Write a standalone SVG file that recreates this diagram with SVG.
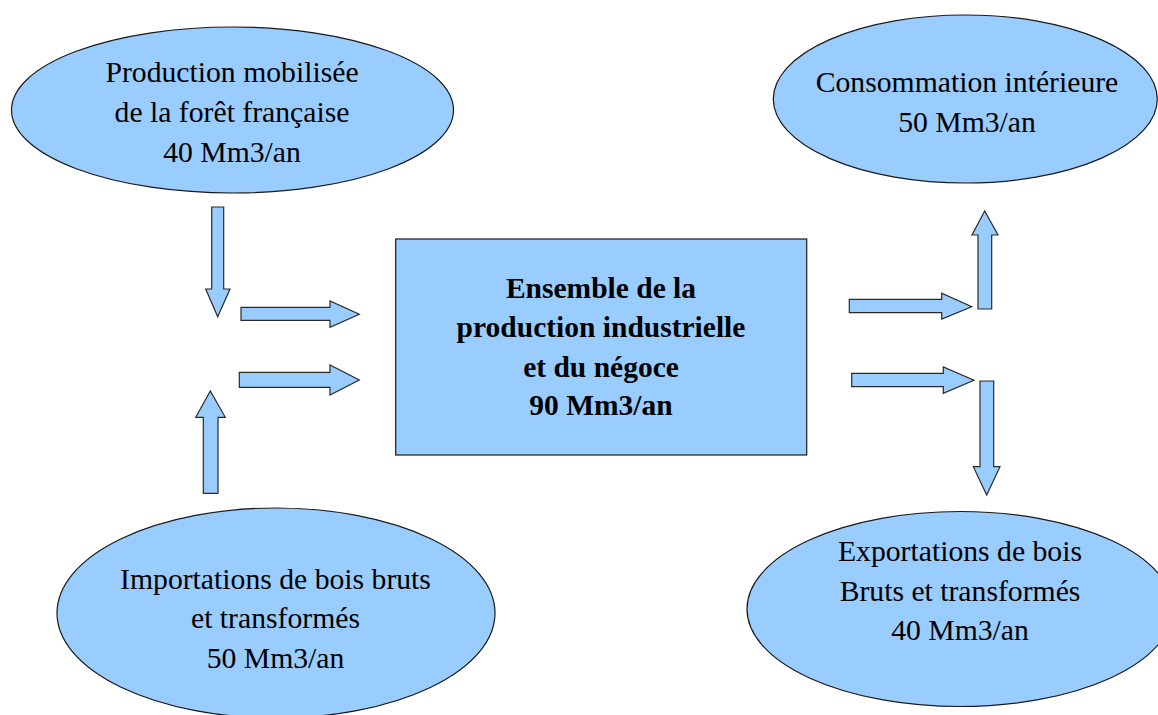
<svg xmlns="http://www.w3.org/2000/svg" width="1158" height="715" viewBox="0 0 1158 715">
<style>
.shape{fill:#99ccff;stroke:#1a1a1a;stroke-width:1.2}
.arr{fill:#99ccff;stroke:#2a2a2a;stroke-width:1.2;stroke-linejoin:miter}
.t{font-family:'Liberation Serif','Times New Roman',Times,Tinos,'Noto Serif','DejaVu Serif',FreeSerif,serif;font-size:29.7px;fill:#000;text-anchor:middle}
.b{font-weight:bold;font-size:29.5px}
</style>
<rect width="1158" height="715" fill="#ffffff"/>
<g id="node-production">
<ellipse class="shape" cx="232.5" cy="110" rx="221" ry="83"/>
<text class="t" x="232" y="82">Production mobilisée</text>
<text class="t" x="232" y="122">de la forêt française</text>
<text class="t" x="232" y="162">40 Mm3/an</text>
</g>
<g id="node-importations">
<ellipse class="shape" cx="276" cy="613" rx="219" ry="105"/>
<text class="t" x="275.5" y="589">Importations de bois bruts</text>
<text class="t" x="275.5" y="628">et transformés</text>
<text class="t" x="275.5" y="668">50 Mm3/an</text>
</g>
<g id="node-ensemble">
<rect class="shape" x="395.7" y="239" width="411" height="216"/>
<text class="t b" x="601" y="298">Ensemble de la</text>
<text class="t b" x="601" y="337">production industrielle</text>
<text class="t b" x="601" y="377">et du négoce</text>
<text class="t b" x="601" y="415">90 Mm3/an</text>
</g>
<g id="node-consommation">
<ellipse class="shape" cx="965.3" cy="99" rx="192" ry="84"/>
<text class="t" x="967" y="92">Consommation intérieure</text>
<text class="t" x="967" y="132">50 Mm3/an</text>
</g>
<g id="node-exportations">
<ellipse class="shape" cx="960" cy="609" rx="213" ry="97.5"/>
<text class="t" x="960" y="561">Exportations de bois</text>
<text class="t" x="960" y="601">Bruts et transformés</text>
<text class="t" x="960" y="640">40 Mm3/an</text>
</g>
<g id="connectors">
<path class="arr" d="M211.7,207 H223.7 V289 H230 L217.7,316.7 L205.7,289 H211.7 Z"/>
<path class="arr" d="M241,307.3 H330 V301 L359.3,314.3 L330,327.3 V320.3 H241 Z"/>
<path class="arr" d="M239.3,372.3 H330 V365 L359.3,380 L330,395 V387.3 H239.3 Z"/>
<path class="arr" d="M203.3,493.3 V417.3 H195.7 L210.3,391 L225.3,417.3 H218 V493.3 Z"/>
<path class="arr" d="M849.3,299.3 H941.7 V293.3 L971.7,306.7 L941.7,319 V312.7 H849.3 Z"/>
<path class="arr" d="M851.7,373.3 H943.3 V367 L974,380.3 L943.3,393.3 V386.7 H851.7 Z"/>
<path class="arr" d="M978,309 V235 H972 L984.7,211 L998,235 H991.7 V309 Z"/>
<path class="arr" d="M980,381 H993.7 V466.7 H1000 L986.7,495 L973.3,466.7 H980 Z"/>
</g>
</svg>
